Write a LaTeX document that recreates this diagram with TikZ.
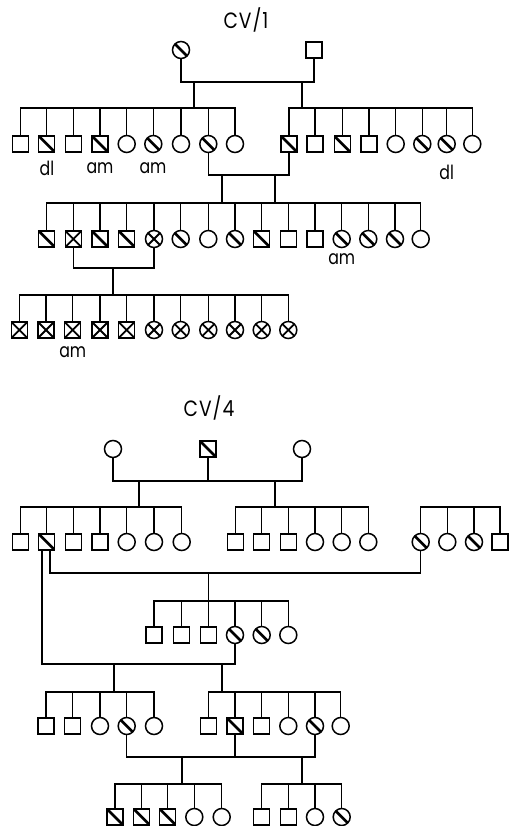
\documentclass[tikz,border=0pt]{standalone}
\usepackage{fontspec}
\setmainfont{Poppins}
\newfontfamily\ttlfont{Poppins}[LetterSpace=5]
\newcommand\tall[1]{\scalebox{1.05}[1.3]{#1}}
\newcommand\ttall[1]{\scalebox{1.1}[1.3]{#1}}
\tikzset{
  sym/.style={draw, line width=1.5pt, inner sep=0pt, outer sep=0pt, fill=white},
  psq/.style={sym, rectangle, minimum size=16pt},
  pci/.style={sym, circle, minimum size=17pt},
  dg/.style={path picture={\draw[line width=2.6pt] (path picture bounding box.north west) -- (path picture bounding box.south east);}},
  xx/.style={path picture={\draw[line width=1.8pt] (path picture bounding box.north west) -- (path picture bounding box.south east) (path picture bounding box.north east) -- (path picture bounding box.south west);}},
  psqd/.style={psq, dg}, psqx/.style={psq, xx},
  pcid/.style={pci, dg}, pcix/.style={pci, xx},
  ln/.style={line width=1.5pt},
  lab/.style={inner sep=0pt, font=\fontsize{15}{15}\selectfont},
  ttl/.style={inner sep=0pt, font=\fontsize{17}{17}\ttlfont},
}
\begin{document}
\begin{tikzpicture}[x=1pt,y=-1pt]
\useasboundingbox (0,0) rectangle (510,826);
% ================= CV/1 =================
\node[ttl] (t1) at (246,20) {\ttall{CV/1}};
\node[pcid] (p1) at (181,50) {};
\node[psq] (p2) at (314,50) {};
\coordinate (m1) at (0,82);
\draw[ln] (p1) |- (p2 |- m1) -- (p2);
\coordinate (d1) at (194,82);
\coordinate (d2) at (302,82);
\coordinate (s2) at (0,108);
\draw[ln] (d1) -- (d1 |- s2);
\draw[ln] (d2) -- (d2 |- s2);
% generation 2 left
\foreach \x/\t [count=\i] in {20.7/psq,46.7/psqd,73.3/psq,100/psqd,126.7/pci,153.3/pcid,181/pci,208.3/pcid,235/pci}
  \node[\t] (a\i) at (\x,144) {};
\draw[ln] (a1) |- (a9 |- s2) -- (a9);
\foreach \i in {2,...,8} \draw[ln] (a\i) -- (a\i |- s2);
% generation 2 right
\foreach \x/\t [count=\i] in {289/psqd,315/psq,342.3/psqd,369/psq,395.7/pci,422.3/pcid,446.7/pcid,472.3/pci}
  \node[\t] (b\i) at (\x,144) {};
\draw[ln] (b1) |- (b8 |- s2) -- (b8);
\foreach \i in {2,...,7} \draw[ln] (b\i) -- (b\i |- s2);
\node[lab] (l1) at (47,168) {\tall{dl}};
\node[lab] (l2) at (100,168) {\tall{am}};
\node[lab] (l3) at (153,168) {\tall{am}};
\node[lab] (l4) at (446.7,172) {\tall{dl}};
% marriage a8 x b1
\coordinate (m2) at (0,175);
\draw[ln] (a8) |- (b1 |- m2) -- (b1);
\coordinate (d3) at (222,175);
\coordinate (d4) at (275,175);
\coordinate (s3) at (0,203);
\draw[ln] (d3) -- (d3 |- s3);
\draw[ln] (d4) -- (d4 |- s3);
% generation 3
\foreach \x/\t [count=\i] in {46.7/psqd,73.3/psqx,100/psqd,126.7/psqd,154/pcix,180.7/pcid,208.3/pci,235/pcid,261.7/psqd,288.3/psq,315/psq,341.7/pcid,368.3/pcid,395/pcid,420.7/pci}
  \node[\t] (c\i) at (\x,239) {};
\draw[ln] (c1) |- (c15 |- s3) -- (c15);
\foreach \i in {2,...,14} \draw[ln] (c\i) -- (c\i |- s3);
\node[lab] (l5) at (341.7,259) {\tall{am}};
% marriage c2 x c5
\coordinate (m3) at (0,268);
\draw[ln] (c2) |- (c5 |- m3) -- (c5);
\coordinate (d5) at (113,268);
\coordinate (s4) at (0,295);
\draw[ln] (d5) -- (d5 |- s4);
% generation 4
\foreach \x/\t [count=\i] in {19.3/psqx,46/psqx,72.7/psqx,100/psqx,126.7/psqx,154/pcix,180.7/pcix,208.3/pcix,235/pcix,261.7/pcix,288.3/pcix}
  \node[\t] (e\i) at (\x,330) {};
\draw[ln] (e1) |- (e11 |- s4) -- (e11);
\foreach \i in {2,...,10} \draw[ln] (e\i) -- (e\i |- s4);
\node[lab] (l6) at (72.7,352) {\tall{am}};
% ================= CV/4 =================
\node[ttl] (t2) at (209,408) {\ttall{CV/4}};
\node[pci] (q1) at (113,449) {};
\node[psqd] (q2) at (208,449) {};
\node[pci] (q3) at (302,449) {};
\coordinate (n1) at (0,481);
\draw[ln] (q1) |- (q3 |- n1) -- (q3);
\draw[ln] (q2) -- (q2 |- n1);
\coordinate (f1) at (139,481);
\coordinate (f2) at (275,481);
\coordinate (r1) at (0,507);
\draw[ln] (f1) -- (f1 |- r1);
\draw[ln] (f2) -- (f2 |- r1);
% sibship A
\foreach \x/\t [count=\i] in {20.7/psq,46.7/psqd,73.3/psq,100/psq,126.7/pci,154/pci,181.7/pci}
  \node[\t] (A\i) at (\x,542) {};
\draw[ln] (A1) |- (A7 |- r1) -- (A7);
\foreach \i in {2,...,6} \draw[ln] (A\i) -- (A\i |- r1);
% sibship B
\foreach \x/\t [count=\i] in {235.7/psq,261.7/psq,288.3/psq,315/pci,341.7/pci,368.3/pci}
  \node[\t] (B\i) at (\x,542) {};
\draw[ln] (B1) |- (B6 |- r1) -- (B6);
\foreach \i in {2,...,5} \draw[ln] (B\i) -- (B\i |- r1);
% sibship C
\foreach \x/\t [count=\i] in {420.7/pcid,447.3/pci,474/pcid,500/psq}
  \node[\t] (C\i) at (\x,542) {};
\draw[ln] (C1) |- (C4 |- r1) -- (C4);
\foreach \i in {2,3} \draw[ln] (C\i) -- (C\i |- r1);
% marriage A2 x C1
\coordinate (n2) at (0,573);
\coordinate (A2r) at ([xshift=3.5pt]A2.south);
\coordinate (A2l) at ([xshift=-4.7pt]A2.south);
\draw[ln] (A2r) |- (C1 |- n2) -- (C1);
\coordinate (f3) at (208.3,573);
\coordinate (r2) at (0,601);
\draw[ln] (f3) -- (f3 |- r2);
% sibship D
\foreach \x/\t [count=\i] in {154/psq,181.7/psq,208.3/psq,235/pcid,261.7/pcid,288.3/pci}
  \node[\t] (D\i) at (\x,635) {};
\draw[ln] (D1) |- (D6 |- r2) -- (D6);
\foreach \i in {2,...,5} \draw[ln] (D\i) -- (D\i |- r2);
% marriage A2 x D4
\coordinate (n3) at (0,664);
\draw[ln] (A2l) |- (D4 |- n3) -- (D4);
\coordinate (f4) at (114,664);
\coordinate (f5) at (222,664);
\coordinate (r3) at (0,692);
\draw[ln] (f4) -- (f4 |- r3);
\draw[ln] (f5) -- (f5 |- r3);
% sibship E
\foreach \x/\t [count=\i] in {46/psq,72.7/psq,100/pci,126.7/pcid,154/pci}
  \node[\t] (E\i) at (\x,726) {};
\draw[ln] (E1) |- (E5 |- r3) -- (E5);
\foreach \i in {2,...,4} \draw[ln] (E\i) -- (E\i |- r3);
% sibship F
\foreach \x/\t [count=\i] in {208.3/psq,235/psqd,261.7/psq,288.3/pci,315/pcid,340.7/pci}
  \node[\t] (F\i) at (\x,726) {};
\draw[ln] (F1) |- (F6 |- r3) -- (F6);
\foreach \i in {2,...,5} \draw[ln] (F\i) -- (F\i |- r3);
% marriage E4 x F2 x F5
\coordinate (n4) at (0,757);
\draw[ln] (E4) |- (F5 |- n4) -- (F5);
\draw[ln] (F2) -- (F2 |- n4);
\coordinate (f6) at (182,757);
\coordinate (f7) at (302,757);
\coordinate (r4) at (0,784);
\draw[ln] (f6) -- (f6 |- r4);
\draw[ln] (f7) -- (f7 |- r4);
% sibship G
\foreach \x/\t [count=\i] in {115/psqd,141.7/psqd,167.7/psqd,194.3/pci,221.7/pci}
  \node[\t] (G\i) at (\x,817) {};
\draw[ln] (G1) |- (G5 |- r4) -- (G5);
\foreach \i in {2,...,4} \draw[ln] (G\i) -- (G\i |- r4);
% sibship H
\foreach \x/\t [count=\i] in {261.7/psq,288.3/psq,315/pci,341.7/pcid}
  \node[\t] (H\i) at (\x,817) {};
\draw[ln] (H1) |- (H4 |- r4) -- (H4);
\foreach \i in {2,3} \draw[ln] (H\i) -- (H\i |- r4);
\end{tikzpicture}
\end{document}
